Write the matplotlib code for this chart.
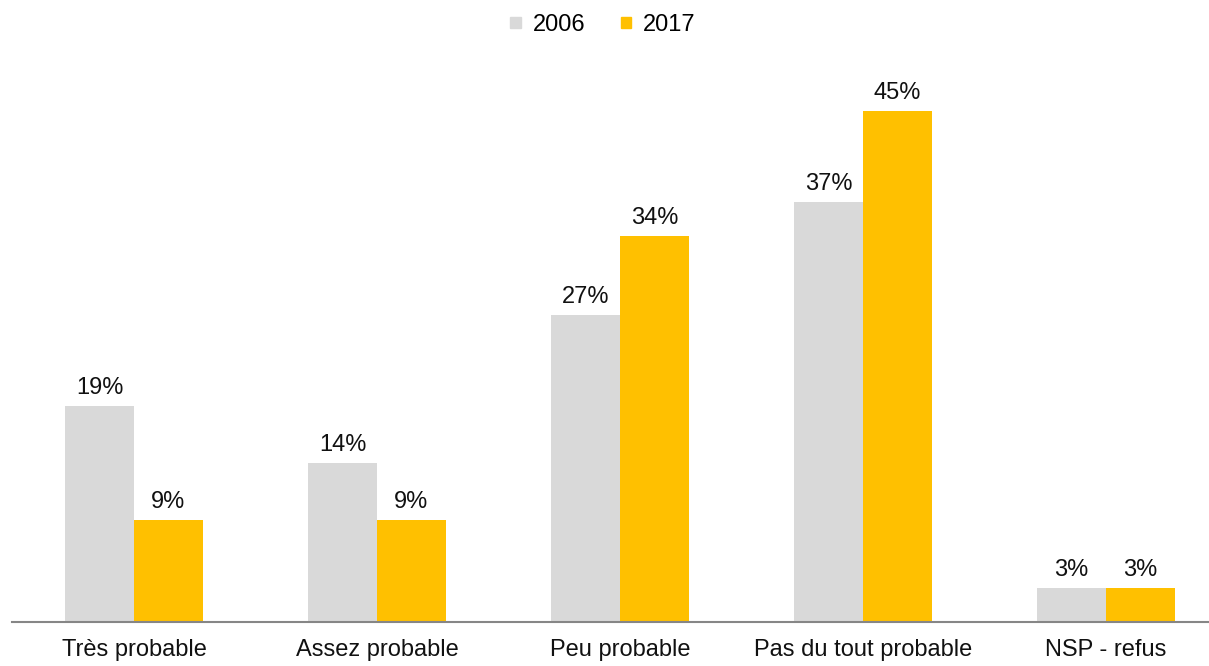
import numpy as np
import matplotlib
matplotlib.use('Agg')
import matplotlib.pyplot as plt
from matplotlib.patches import Patch

plt.rcParams['font.family'] = ['Liberation Sans', 'DejaVu Sans']

categories = ['Très probable', 'Assez probable', 'Peu probable',
              'Pas du tout probable', 'NSP - refus']
series_names = ['2006', '2017']
vals_2006 = [19, 14, 27, 37, 3]
vals_2017 = [9, 9, 34, 45, 3]

colors = ['#D9D9D9', '#FFC000']

W, H = 1209, 666
fig = plt.figure(figsize=(W / 100, H / 100), dpi=100)
# axes placed in pixel terms: baseline at y=622 px, top at 60 px
ax = fig.add_axes([0, (H - 622) / H, 1, 562 / H])

x = np.arange(len(categories))
bw = 69 / 243
b1 = ax.bar(x - bw / 2, vals_2006, bw, color=colors[0])
b2 = ax.bar(x + bw / 2, vals_2017, bw, color=colors[1])

for bars, vals in [(b1, vals_2006), (b2, vals_2017)]:
    for b, v in zip(bars, vals):
        ax.annotate(f'{v}%', (b.get_x() + b.get_width() / 2, b.get_height()),
                    xytext=(0, 5), textcoords='offset points',
                    ha='center', va='bottom', fontsize=17, color='#111111')

ax.set_xlim(-134 / 243, (W - 134) / 243)
ax.set_ylim(0, 562 / (511 / 45))
ax.set_xticks(x)
ax.set_xticklabels(categories, fontsize=17, color='#111111')
ax.tick_params(axis='x', length=0, pad=12)
ax.set_yticks([])
for s in ['top', 'right', 'left']:
    ax.spines[s].set_visible(False)
ax.spines['bottom'].set_color('#868686')
ax.spines['bottom'].set_linewidth(1.5)
ax.spines['bottom'].set_bounds(-122 / 243, (W - 134) / 243)

handles = [Patch(color=c) for c in colors]
fig.legend(handles, series_names, loc='center', bbox_to_anchor=(603 / W, 1 - 25 / H),
           ncol=2, frameon=False, fontsize=17, handlelength=0.45, handleheight=0.3,
           handletextpad=0.5, columnspacing=1.5)

fig.savefig('out.png', dpi=100)
